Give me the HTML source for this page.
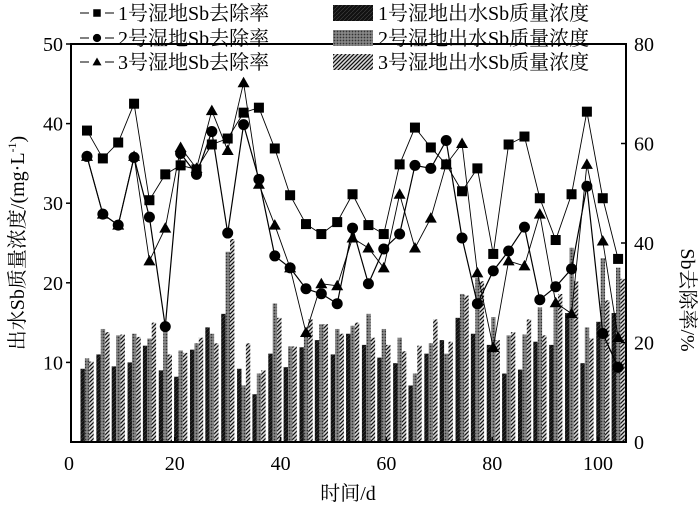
<!DOCTYPE html>
<html><head><meta charset="utf-8">
<style>
html,body{margin:0;padding:0;background:#fff;}
svg{display:block;font-family:"Liberation Serif","Noto Serif CJK SC",serif;}
</style></head>
<body>
<svg id="chart" width="700" height="507" viewBox="0 0 700 507" xmlns="http://www.w3.org/2000/svg">
<defs>
<pattern id="p1" patternUnits="userSpaceOnUse" width="4" height="4">
<rect width="4" height="4" fill="#111"/><path d="M0,4 L4,0" stroke="#444" stroke-width="0.6"/>
</pattern>
<pattern id="p2" patternUnits="userSpaceOnUse" width="3" height="3">
<rect width="3" height="3" fill="#888"/><circle cx="1.5" cy="1.5" r="0.9" fill="#333"/>
</pattern>
<pattern id="p3" patternUnits="userSpaceOnUse" width="4" height="4">
<rect width="4" height="4" fill="#ddd"/><path d="M-1,1 L1,-1 M0,4 L4,0 M3,5 L5,3" stroke="#111" stroke-width="1.3"/>
</pattern>
</defs>
<g id="bars"></g>
<g id="lines"></g>
<g id="axes"></g>
<g id="legend"></g>
</svg>
<script>
const days=[3.4,6.4,9.3,12.3,15.2,18.2,21.1,24.1,27,30,33,35.9,38.9,41.8,44.8,47.7,50.7,53.6,56.6,59.5,62.5,65.4,68.4,71.3,74.3,77.2,80.2,83.1,86.1,89,92,95,97.9,100.9,103.8];
const rem1=[62.6,57,60.2,68,48.6,53.8,55.6,54.8,59.8,61,66.2,67.2,59,49.6,43.8,41.8,44.2,49.8,43.6,41.8,55.8,63.2,59.2,55.8,50.4,55,37.8,59.8,61.4,49,40.6,49.8,66.4,49,36.8];
const rem2=[57.4,45.8,43.6,57.2,45.2,23.2,58,53.8,62.4,42,63.8,52.8,37.4,35,30.8,29.8,27.8,43,31.8,38.8,41.8,55.6,55,60.6,41,27.8,34.4,38.4,43.2,28.6,31.2,34.8,51.4,21.8,15];
const rem3=[57.4,45.8,43.6,57.4,36.4,43,59.2,55,66.6,58.6,72.2,51.8,43.6,35,22,31.8,31.4,41,39,35,49.8,39,45,55.8,60,34,19,36.4,35.4,45.8,28,25.8,55.8,40.4,21];
const conc1=[9.2,11,9.5,10,12.1,9,8.2,11.6,14.4,16.1,9.2,6,11.1,9.4,11.9,12.8,11,13.6,12.2,10.6,9.9,7.1,11.1,12.8,15.6,13.6,12.2,8.6,9.1,12.6,12.2,16.2,9.9,15.1,16.2];
const conc2=[10.5,14.2,13.4,13.6,13,14,11.5,12.4,13.6,23.9,7.1,8.6,17.4,12,13.6,14.8,14.2,14.6,16.1,14.2,13.1,8.6,12.4,11.1,18.6,20.6,15.7,13.4,13.5,16.9,16.9,24.4,14.4,23.1,21.9];
const conc3=[10.1,13.8,13.5,13.2,15,11,11.2,13.1,12.4,25.5,12.4,9,15.6,12,15.4,14.8,13.6,15,13.1,12.2,11.4,12.1,15.4,12.6,18.4,20.2,12.8,13.8,15.4,13.4,18.6,20.2,13,17.8,20.5];
const xTicks=[0,20,40,60,80,100];
const yTicksL=[10,20,30,40,50];
const yTicksR=[0,20,40,60,80];
const L=71,R=626,B=442,T=44;
const xs=d=>69+5.29*d;
const yl=v=>B-(B-T)*v/50;
const yr=v=>B-(B-T)*v/80;
const NS='http://www.w3.org/2000/svg';
function mk(tag,attrs,parent){const e=document.createElementNS(NS,tag);for(const k in attrs)e.setAttribute(k,attrs[k]);parent.appendChild(e);return e;}
const gb=document.getElementById('bars'),gl=document.getElementById('lines'),ga=document.getElementById('axes'),gg=document.getElementById('legend');
const concs=[conc1,conc2,conc3],pats=['url(#p1)','url(#p2)','url(#p3)'];
days.forEach((d,i)=>{concs.forEach((c,s)=>{
  const x=xs(d)-6.5+s*4.4;
  const r=mk('rect',{x:x,y:yl(c[i]),width:4.4,height:B-yl(c[i]),fill:pats[s]},gb);
  
  
});});
const rems=[rem1,rem2,rem3];
rems.forEach((r,s)=>{
  const p=mk('polyline',{points:days.map((d,i)=>xs(d)+','+yr(r[i])).join(' '),fill:'none',stroke:'#000','stroke-width':s==1?1.2:0.9},gl);
  
  
});
function marker(s,x,y,parent,k){
  k=k||1;let e;
  if(s==0)e=mk('rect',{x:x-5*k,y:y-5*k,width:10*k,height:10*k,fill:'#000'},parent);
  else if(s==1)e=mk('circle',{cx:x,cy:y,r:5.5*k,fill:'#000'},parent);
  else e=mk('polygon',{points:`${x},${y-6*k} ${x+6*k},${y+4.5*k} ${x-6*k},${y+4.5*k}`,fill:'#000'},parent);
  return e;
}
rems.forEach((r,s)=>{days.forEach((d,i)=>{
  const m=marker(s,xs(d),yr(r[i]),gl);
  
  
});});
mk('rect',{x:L,y:T,width:R-L,height:B-T,fill:'none',stroke:'#000','stroke-width':2},ga);
xTicks.forEach(t=>{
  const x=xs(t);
  if(t>0)mk('line',{x1:x,y1:B,x2:x,y2:B-5,stroke:'#000','stroke-width':1.5},ga);
  const tx=mk('text',{x:x,y:B+28,'text-anchor':'middle','font-size':20},ga);tx.textContent=t;
  
  
});
yTicksL.forEach(t=>{
  const y=yl(t);
  mk('line',{x1:L,y1:y,x2:L-5,y2:y,stroke:'#000','stroke-width':1.5},ga);
  const tx=mk('text',{x:L-8,y:y+7,'text-anchor':'end','font-size':20},ga);tx.textContent=t;
  
  
});
yTicksR.forEach(t=>{
  const y=yr(t);
  mk('line',{x1:R,y1:y,x2:R-5,y2:y,stroke:'#000','stroke-width':1.5},ga);
  const tx=mk('text',{x:R+8,y:y+7,'text-anchor':'start','font-size':20},ga);tx.textContent=t;
  
  
});
let tt=mk('text',{x:348,y:500,'text-anchor':'middle','font-size':20},ga);tt.textContent='时间/d';

tt=mk('text',{x:0,y:0,'text-anchor':'middle','font-size':20,transform:'translate(24,243) rotate(-90)'},ga);
tt.innerHTML='出水Sb质量浓度/(mg·L<tspan font-size="12" dy="-8">-1</tspan><tspan dy="8">)</tspan>';

tt=mk('text',{x:0,y:0,'text-anchor':'middle','font-size':20,transform:'translate(681,300) rotate(90)'},ga);tt.textContent='Sb去除率/%';

const lnames=['1号湿地Sb去除率','2号湿地Sb去除率','3号湿地Sb去除率'];
const bnames=['1号湿地出水Sb质量浓度','2号湿地出水Sb质量浓度','3号湿地出水Sb质量浓度'];
[13,38,62].forEach((y,s)=>{
  const g=mk('g',{},gg);
  
  
  mk('line',{x1:80,y1:y,x2:89,y2:y,stroke:'#000','stroke-width':1},g);
  mk('line',{x1:105,y1:y,x2:114,y2:y,stroke:'#000','stroke-width':1},g);
  marker(s,97,y,g,0.75);
  const t=mk('text',{x:118,y:y+7,'font-size':20},g);t.textContent=lnames[s];
  const g2=mk('g',{},gg);
  
  
  mk('rect',{x:333,y:y-8,width:40,height:16,fill:pats[s]},g2);
  const t2=mk('text',{x:378,y:y+7,'font-size':20},g2);t2.textContent=bnames[s];
});
</script>
</body></html>
